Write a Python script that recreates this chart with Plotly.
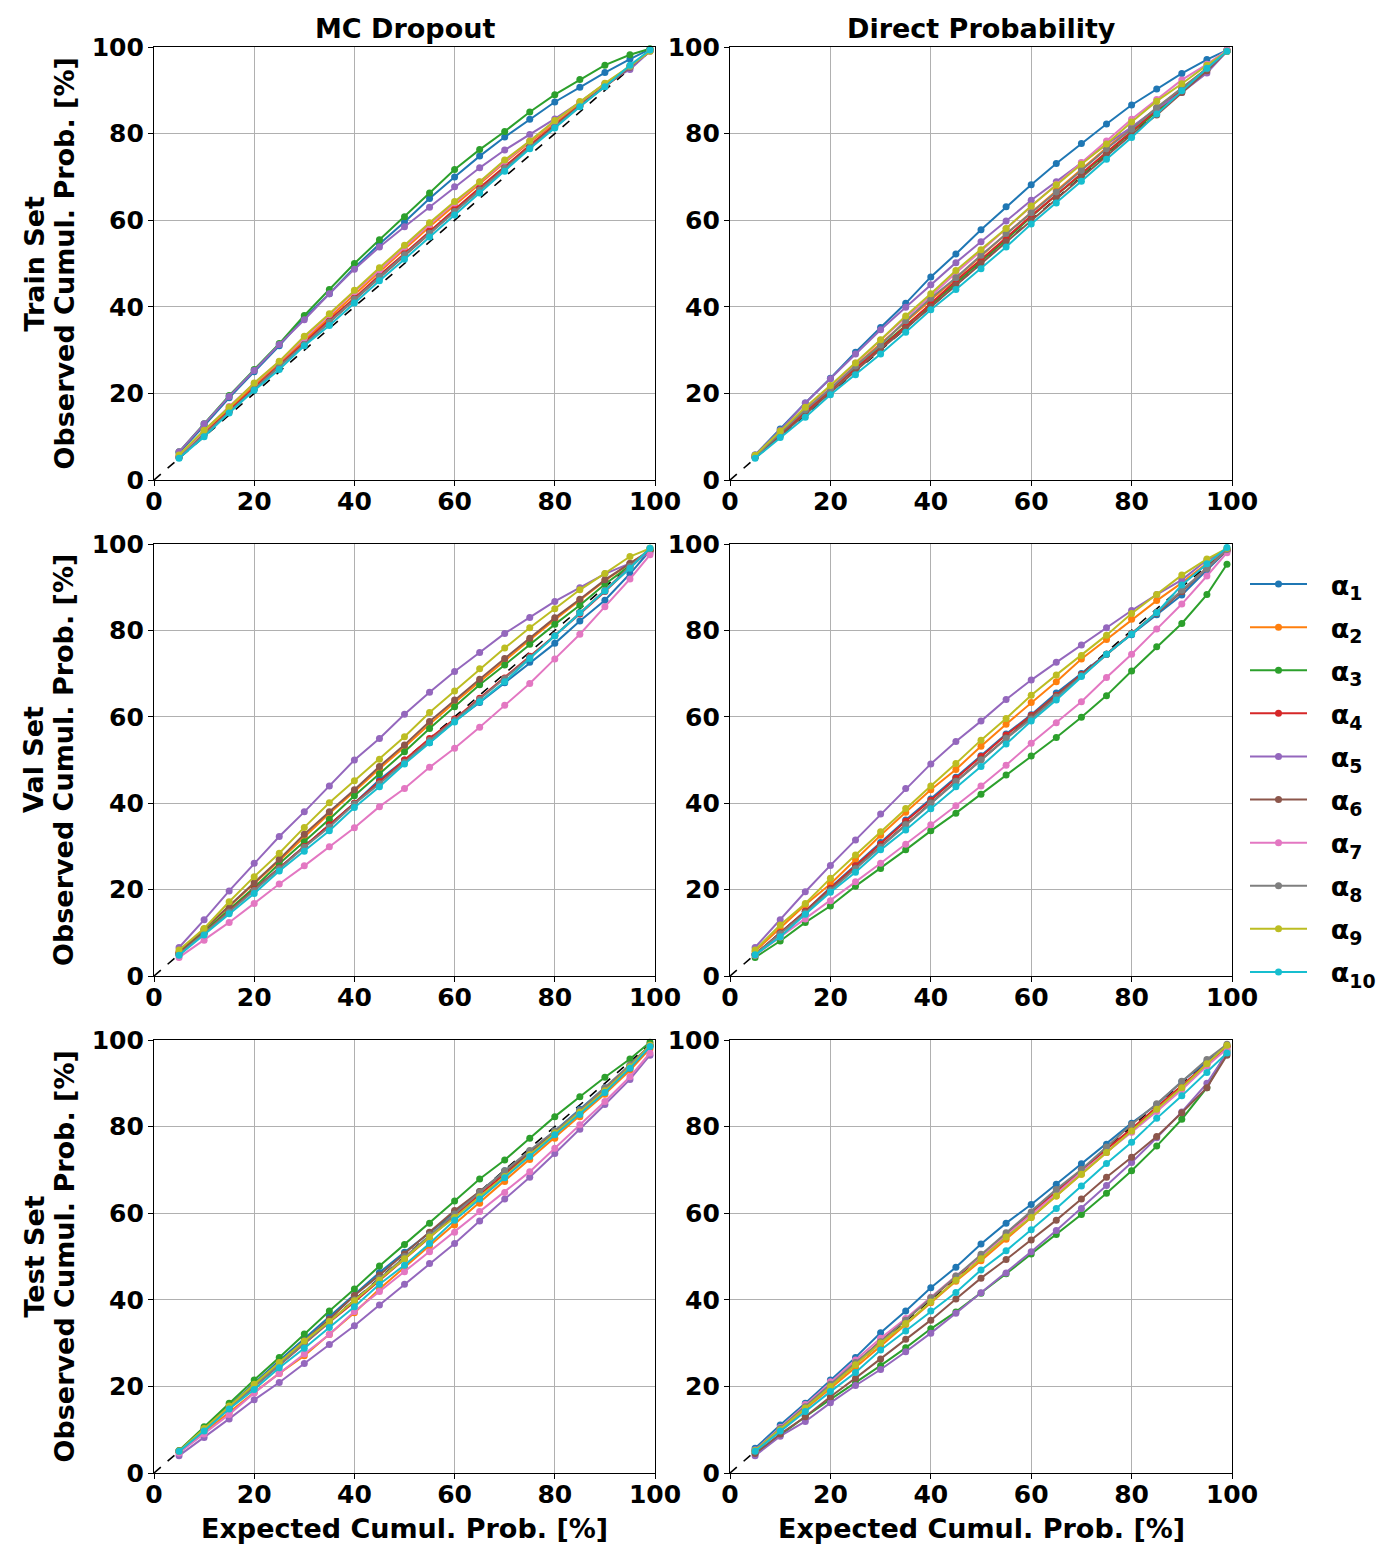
import plotly.graph_objects as go

# ---------------- data ----------------
x_expected = [5, 10, 15, 20, 25, 30, 35, 40, 45, 50, 55, 60, 65, 70, 75, 80, 85, 90, 95, 99]

series_labels = ["α<sub>1</sub>", "α<sub>2</sub>", "α<sub>3</sub>", "α<sub>4</sub>", "α<sub>5</sub>",
                 "α<sub>6</sub>", "α<sub>7</sub>", "α<sub>8</sub>", "α<sub>9</sub>", "α<sub>10</sub>"]
series_colors = ["#1f77b4", "#ff7f0e", "#2ca02c", "#d62728", "#9467bd",
                 "#8c564b", "#e377c2", "#7f7f7f", "#bcbd22", "#17becf"]

column_titles = ["MC Dropout", "Direct Probability"]
row_titles = ["Train Set", "Val Set", "Test Set"]
tick_values = [0, 20, 40, 60, 80, 100]

train_mc = [
    [6.3, 12.5, 19, 25, 31, 37.5, 43, 49, 54.5, 59.6, 65, 70, 74.8, 79.2, 83.3, 87.3, 90.7, 94.1, 97.2, 99.5],
    [5.5, 11, 16.5, 21.8, 27, 32.3, 37.5, 42.8, 48, 53.3, 58.5, 63.5, 68.3, 73.3, 78, 82.5, 87, 91.3, 95.5, 99.2],
    [6.5, 13, 19.5, 25.5, 31.5, 38, 44, 50, 55.5, 60.8, 66.3, 71.7, 76.3, 80.5, 85, 89, 92.5, 95.8, 98.2, 99.6],
    [5.3, 10.7, 16, 21.3, 26.5, 31.8, 37, 42, 47.3, 52.3, 57.5, 62.5, 67.5, 72.5, 77.3, 82, 86.5, 91, 95.3, 99.2],
    [6.5, 13, 19.3, 25.3, 31.3, 37, 43, 48.7, 53.8, 58.5, 63, 67.7, 72.1, 76.2, 79.8, 83.4, 87.2, 91.5, 94.8, 99],
    [5.2, 10.5, 15.8, 21, 26.2, 31.3, 36.5, 41.5, 46.7, 51.8, 57, 62, 67, 72, 77, 81.8, 86.5, 91, 95.3, 99.2],
    [5.6, 11.3, 17, 22.3, 27.3, 32.8, 38.2, 43.5, 48.5, 53.8, 59, 64, 68.8, 73.6, 78.3, 82.8, 87.3, 91.5, 95.5, 99.1],
    [5.2, 10.5, 15.8, 21, 26.2, 31.3, 36.5, 41.8, 47, 52, 57, 62, 67, 72, 76.8, 81.5, 86.3, 91, 95.5, 99.2],
    [5.8, 11.5, 16.8, 22.4, 27.4, 33.2, 38.4, 43.8, 49, 54.2, 59.4, 64.3, 68.9, 73.9, 78.3, 83, 87.4, 91.6, 95.6, 99],
    [5, 10, 15.5, 20.7, 25.5, 31, 35.7, 40.9, 46, 51, 56.1, 61.2, 66.3, 71.3, 76.5, 81.3, 86.2, 90.8, 95.8, 99.3],
]

train_dp = [
    [5.8, 11.8, 17.8, 23.5, 29.5, 35.2, 40.8, 46.9, 52.2, 57.8, 63.1, 68.2, 73.1, 77.7, 82.2, 86.6, 90.3, 93.9, 97.1, 99.3],
    [5.4, 10.8, 16.2, 21.3, 26.5, 31.5, 36.5, 41.5, 46.7, 51.7, 56.8, 61.8, 66.8, 71.8, 76.7, 81.3, 86, 90.5, 95, 99.2],
    [5.3, 10.5, 15.5, 20.8, 25.8, 30.8, 35.7, 40.5, 45.5, 50.5, 55.5, 60.8, 65.8, 70.5, 75.5, 80.3, 85, 89.8, 94.8, 99.2],
    [5.3, 10.5, 15.5, 20.8, 25.8, 30.5, 35.5, 40.7, 46, 50.9, 56, 61, 65.8, 70.8, 75.7, 80.5, 85.5, 90, 95, 99.2],
    [5.8, 11.5, 17.8, 23.4, 29.1, 34.7, 39.9, 45.1, 50.2, 55, 59.8, 64.6, 68.9, 73.2, 77.5, 81.5, 85.8, 89.5, 94, 99],
    [5.2, 10.2, 15.2, 20.2, 25.3, 30.2, 35, 40, 45, 50, 55, 60, 65, 70, 75, 79.8, 84.3, 89.5, 94.5, 99],
    [5.5, 11, 16.5, 21.5, 27, 32.3, 37.5, 42.5, 47.8, 52.8, 58, 63.2, 68.3, 73.3, 78.3, 83.3, 87.9, 92.4, 96, 99.3],
    [5.5, 10.8, 16.2, 21, 26.3, 31.2, 36.8, 42, 46.7, 51.9, 56.9, 61.7, 66.5, 71.5, 76.5, 81, 86, 90.5, 95, 99],
    [5.7, 11.3, 16.8, 21.8, 27, 32.4, 37.9, 43, 48.4, 53.2, 58.1, 63.3, 68.2, 72.9, 77.6, 82.7, 87.5, 91.5, 95.8, 99],
    [5, 9.8, 14.5, 19.7, 24.3, 29.1, 34.1, 39.3, 44, 48.8, 53.8, 59.1, 64, 69, 74.1, 79.1, 84.5, 89.9, 95.1, 99],
]

val_mc = [
    [5, 10, 15, 20, 25, 30, 35, 40, 45.4, 50, 54, 59, 63.3, 67.9, 72.6, 77, 82.2, 87, 93.1, 98.5],
    [5.5, 10.8, 16, 21.2, 26.7, 32.2, 37.6, 42.7, 48, 53, 58.3, 63.3, 68.2, 73, 77.8, 82.5, 87, 91.5, 95.5, 98.5],
    [5.2, 10.3, 15.5, 20.5, 26, 31.1, 36.3, 41.7, 46.8, 51.9, 57.3, 62.3, 67.4, 72, 76.8, 81.4, 85.8, 90.7, 95, 98.5],
    [5, 10, 15, 20, 25, 30, 35, 40, 45, 50, 55, 59.5, 64.3, 69, 74, 78.8, 83.8, 89, 94.5, 98.8],
    [6.6, 13, 19.7, 26.1, 32.3, 38, 44, 50, 55, 60.6, 65.7, 70.5, 74.9, 79.3, 83, 86.7, 89.9, 93.1, 95.5, 98],
    [5.5, 10.8, 16.2, 21.6, 27, 32.8, 38, 43.1, 48.5, 53.5, 58.9, 63.9, 68.7, 73.5, 78.2, 82.9, 87.2, 91.7, 95.5, 98.5],
    [4.3, 8.3, 12.4, 16.8, 21.3, 25.5, 29.9, 34.3, 39.2, 43.4, 48.3, 52.7, 57.6, 62.7, 67.7, 73.4, 79.1, 85.5, 91.9, 97.5],
    [5, 9.8, 14.8, 19.8, 24.8, 29.8, 34.5, 39.8, 44.5, 49.5, 54.5, 59.2, 64, 68.8, 73.8, 78.8, 84, 89.3, 94.8, 99],
    [6, 11, 17.2, 23, 28.4, 34.4, 40.1, 45.2, 50.2, 55.4, 61, 66, 71.1, 75.9, 80.6, 85, 89.4, 93.2, 97.1, 99],
    [4.8, 9.5, 14.4, 19.1, 24.3, 28.9, 33.6, 39, 43.8, 49.1, 54, 58.8, 63.5, 68.1, 73.5, 78.7, 84.1, 89.1, 94.4, 99],
]

val_dp = [
    [5, 10, 15, 20.5, 25.7, 30.9, 36.1, 41, 46, 51, 56, 60.5, 65.5, 70, 74.5, 79, 83.6, 88.2, 94, 98.5],
    [5.7, 11, 16.5, 21.3, 27, 32.6, 37.9, 43.1, 47.8, 53.2, 58.3, 63.3, 68.1, 73.4, 77.9, 82.6, 86.9, 91, 95.5, 98.5],
    [4.3, 8.1, 12.4, 16.2, 20.8, 24.9, 29.2, 33.6, 37.7, 42.1, 46.5, 50.9, 55.2, 59.9, 64.9, 70.6, 76.2, 81.6, 88.3, 95.3],
    [5, 10, 15, 20.3, 25.5, 30.5, 35.8, 40.7, 45.8, 50.8, 55.8, 60.3, 65, 69.8, 74.5, 79.3, 84, 89, 94.5, 98.8],
    [6.6, 13, 19.5, 25.6, 31.5, 37.5, 43.4, 49.1, 54.3, 59, 64, 68.5, 72.6, 76.6, 80.6, 84.6, 88.3, 91.7, 96.3, 98.5],
    [5, 9.8, 14.8, 20, 25, 30, 35.2, 40.2, 45.2, 50.2, 55.2, 60, 64.8, 69.7, 74.5, 79.3, 84, 89, 94.5, 98.5],
    [4.8, 9, 13.2, 17.4, 21.8, 26.1, 30.5, 35, 39.4, 44, 48.8, 53.9, 58.6, 63.5, 69.1, 74.5, 80.3, 86.1, 92.6, 98],
    [5, 9.8, 14.5, 19.8, 24.8, 29.8, 35, 40, 45, 50, 55, 59.5, 64.5, 69.5, 74.5, 79.3, 84.2, 89.3, 94.3, 98.7],
    [6, 11.8, 16.8, 22.6, 28, 33.4, 38.8, 44, 49.2, 54.6, 59.6, 65, 69.7, 74.2, 78.9, 83.9, 88.3, 92.8, 96.5, 99],
    [4.9, 9.1, 14.3, 19.4, 24, 29.2, 33.8, 38.7, 43.8, 48.5, 53.7, 59, 63.9, 69.3, 74.5, 79.1, 84.1, 90.5, 95.4, 99.2],
]

test_mc = [
    [5, 10.3, 15.5, 20.8, 26, 31, 36.1, 41, 46.3, 51, 55.5, 60.3, 65, 69.8, 74.3, 79, 84, 89, 94, 98.8],
    [4.8, 9.5, 14, 18.6, 23, 27.1, 32, 37, 42.5, 47.5, 52.5, 57.3, 62.3, 67.3, 72.4, 77.3, 82.3, 87.5, 93, 98],
    [5.2, 10.7, 16.1, 21.5, 26.7, 32.1, 37.4, 42.5, 47.8, 52.8, 57.7, 62.8, 67.9, 72.3, 77.3, 82.3, 86.9, 91.4, 95.6, 99.5],
    [5, 10, 15, 20, 25, 30, 34.8, 39.5, 44.5, 49.5, 54.5, 59.5, 64.3, 69, 73.8, 78.5, 83.5, 88.5, 94, 98.8],
    [4, 8.2, 12.5, 16.9, 20.9, 25.3, 29.7, 34, 38.8, 43.6, 48.4, 53, 58.2, 63.3, 68.3, 73.8, 79.4, 85.1, 90.9, 96.5],
    [5, 10, 15.2, 20.3, 25.5, 30.5, 35.5, 41, 45.7, 50.6, 55.6, 60.6, 65, 69.5, 73.8, 78.3, 83, 88.3, 93.5, 98.5],
    [4.6, 9, 13.5, 18.5, 23, 27.5, 32, 37.3, 41.9, 46.5, 51.1, 55.6, 60.4, 64.8, 69.6, 75, 80.4, 85.8, 91.5, 97],
    [5, 10, 15, 20, 25, 30, 35, 40, 45, 50, 55, 59.8, 64.8, 69.8, 74.5, 79, 83.8, 89, 94.3, 98.8],
    [5.1, 10.3, 15.5, 20.5, 25.5, 30.5, 35, 39.8, 44.5, 49.5, 54.5, 59, 63.8, 68.5, 73.5, 78.5, 83.3, 88.3, 93.8, 98.8],
    [5, 9.7, 14.8, 19.3, 24.3, 28.8, 33.6, 38.4, 43.6, 48, 53, 58.4, 63.3, 68.2, 73.1, 78.1, 82.8, 87.9, 93.5, 98.5],
]

test_dp = [
    [5.7, 11.1, 16.1, 21.5, 26.7, 32.4, 37.4, 42.8, 47.5, 52.9, 57.7, 62, 66.7, 71.4, 75.9, 80.8, 85.1, 90.4, 95, 98.5],
    [5, 10, 14.8, 19.5, 24.3, 29.3, 34.3, 39.3, 44.3, 49, 54, 59, 64, 69, 74, 78.8, 84, 89, 94.5, 98.5],
    [4.5, 8.8, 13, 17, 20.8, 24.8, 28.9, 33.3, 37.2, 41.5, 46, 50.6, 55.1, 59.7, 64.6, 69.8, 75.5, 81.7, 89, 97.5],
    [5.2, 10.2, 15.2, 20.3, 25.3, 30.5, 35.5, 40.3, 45.2, 50, 55, 60, 65, 70, 74.8, 79.5, 84.5, 89.5, 94.5, 98.5],
    [4, 8.5, 11.9, 16.2, 20.2, 23.9, 28, 32.3, 36.9, 41.6, 46.2, 51.1, 56, 61.1, 66.4, 71.7, 77.4, 83.4, 90, 97],
    [4.5, 9, 13, 17.6, 21.9, 26.3, 30.9, 35.3, 40.2, 45, 49.3, 53.8, 58.4, 63.3, 68.3, 72.9, 77.7, 83.2, 89, 96.5],
    [5.3, 10.5, 15.8, 21.1, 26.1, 31.1, 35.7, 40.6, 45.5, 50, 54.8, 59.5, 64.5, 69.5, 74, 78.7, 83.5, 88.5, 94, 98],
    [5.2, 10.3, 15.3, 20.5, 25.5, 30.3, 35.3, 40.5, 45.5, 50.5, 55.5, 60.3, 65.5, 70.1, 75.3, 80.5, 85.3, 90.5, 95.5, 99],
    [5.2, 10, 15, 20, 25, 30, 34.5, 39.5, 44.5, 49.5, 54.5, 59, 64, 69, 74, 79, 84, 89, 94.5, 98.8],
    [5, 9.7, 14.2, 18.8, 23.2, 28.4, 32.8, 37.4, 41.7, 46.9, 51.3, 56.2, 61.1, 66.3, 71.5, 76.4, 81.9, 87.1, 92.5, 97],
]

diag = [0, 100]

# ---------------- layout geometry ----------------
W, H = 1400, 1550
OFF = 8  # page body margin offset
def px_x(p):
    return (p - OFF) / W
def px_y(p):
    return 1 - (p - OFF) / H

col_domains = [[px_x(154), px_x(655)], [px_x(730), px_x(1232)]]
row_domains = [[px_y(480), px_y(47)], [px_y(976), px_y(544)], [px_y(1473), px_y(1040)]]

panels = [[train_mc, train_dp], [val_mc, val_dp], [test_mc, test_dp]]

FONT = "DejaVu Sans"
fig = go.Figure()

ax_idx = 0
for r in range(3):
    for c in range(2):
        ax_idx += 1
        sfx = "" if ax_idx == 1 else str(ax_idx)
        xref, yref = "x" + sfx, "y" + sfx
        # diagonal reference
        fig.add_trace(go.Scatter(x=diag, y=diag, mode="lines", xaxis=xref, yaxis=yref,
                                 line=dict(color="black", width=1.6, dash="dash"),
                                 showlegend=False, hoverinfo="skip"))
        data = panels[r][c]
        for k in range(10):
            fig.add_trace(go.Scatter(
                x=x_expected, y=data[k], mode="lines+markers", xaxis=xref, yaxis=yref,
                name="&nbsp;&nbsp;" + series_labels[k], legendgroup="g%d" % k,
                line=dict(color=series_colors[k], width=2),
                marker=dict(color=series_colors[k], size=7),
                showlegend=(ax_idx == 1), cliponaxis=False))
        axis_common = dict(range=[0, 100], tickvals=tick_values, showline=True, linecolor="black",
                           linewidth=1.3, mirror=True, ticks="outside", ticklen=5, tickwidth=1.3,
                           tickcolor="black", showgrid=True, gridcolor="#b0b0b0", gridwidth=1,
                           zeroline=False, fixedrange=True, automargin=False,
                           tickfont=dict(family=FONT, size=25, color="black", weight="bold"))
        fig.update_layout(**{
            "xaxis" + sfx: dict(domain=col_domains[c], anchor=yref, ticklabelstandoff=-6, **axis_common),
            "yaxis" + sfx: dict(domain=row_domains[r], anchor=xref, ticklabelstandoff=-1, **axis_common),
        })

annotations = []
lab_font = dict(family=FONT, size=27, color="black", weight="bold")
for c in range(2):
    xc = (col_domains[c][0] + col_domains[c][1]) / 2
    annotations.append(dict(text=column_titles[c], x=xc, y=px_y(28), xref="paper", yref="paper",
                            showarrow=False, font=lab_font, xanchor="center", yanchor="middle"))
    annotations.append(dict(text="Expected Cumul. Prob. [%]", x=xc, y=px_y(1528), xref="paper",
                            yref="paper", showarrow=False, font=lab_font, xanchor="center", yanchor="middle"))
for r in range(3):
    yc = (row_domains[r][0] + row_domains[r][1]) / 2
    annotations.append(dict(text=row_titles[r], x=px_x(34), y=yc, xref="paper", yref="paper",
                            showarrow=False, font=lab_font, textangle=-90, xanchor="center", yanchor="middle"))
    annotations.append(dict(text="Observed Cumul. Prob. [%]", x=px_x(64), y=yc, xref="paper", yref="paper",
                            showarrow=False, font=lab_font, textangle=-90, xanchor="center", yanchor="middle"))

fig.update_layout(
    width=W, height=H,
    margin=dict(l=0, r=0, t=0, b=0, pad=0, autoexpand=False),
    paper_bgcolor="white", plot_bgcolor="white",
    annotations=annotations,
    showlegend=True,
    legend=dict(x=px_x(1245), y=px_y(560), xanchor="left", yanchor="top",
                font=dict(family=FONT, size=27, color="black", weight="bold"),
                bgcolor="rgba(0,0,0,0)", itemwidth=57, tracegroupgap=5),
    font=dict(family=FONT, color="black"),
)

fig.write_html("out.html")
